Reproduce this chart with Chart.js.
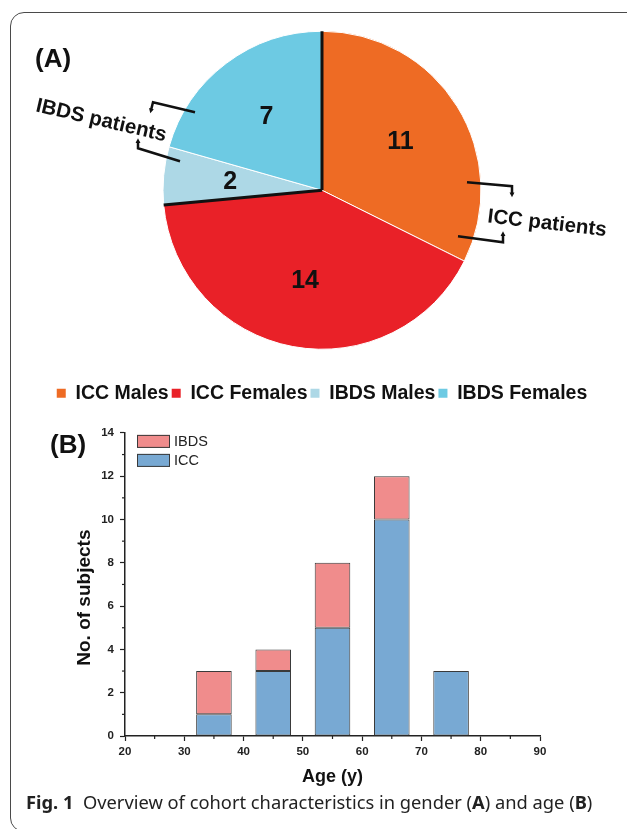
<!DOCTYPE html>
<html>
<head>
<meta charset="utf-8">
<script src="https://cdn.jsdelivr.net/npm/chart.js@4.4.1/dist/chart.umd.min.js"></script>
<style>
  html, body { margin: 0; padding: 0; background: #fff; width: 627px; height: 829px; overflow: hidden; }
  #frame { position: absolute; left: 10px; top: 12px; width: 700px; height: 818px; border: 1.5px solid #4a4a4a; border-radius: 14px; }
  .panel { position: absolute; font-family: 'Liberation Sans', Arial, sans-serif; font-weight: bold; font-size: 26px; line-height: 1; color: #111; }
  #pieCanvas { position: absolute; left: 0; top: 0; }
  #barCanvas { position: absolute; left: 0; top: 420px; }
  #caption { position: absolute; left: 26px; top: 793px; font-family: 'Noto Sans', 'Open Sans', sans-serif; font-size: 18px; line-height: 1; color: #222; white-space: nowrap; }
  #caption b { font-weight: bold; }
</style>
</head>
<body>
<div id="frame"></div>
<canvas id="pieCanvas" width="627" height="413"></canvas>
<canvas id="barCanvas" width="627" height="380"></canvas>
<div class="panel" style="left:35px; top:45px;">(A)</div>
<div class="panel" style="left:50px; top:431px;">(B)</div>
<div id="caption"><b>Fig. 1</b>&nbsp;&nbsp;Overview of cohort characteristics in gender (<b>A</b>) and age (<b>B</b>)</div>

<script>
// Pie data (A)
const pieLabels = ['ICC Males', 'ICC Females', 'IBDS Males', 'IBDS Females'];
const pieValues = [11, 14, 2, 7];
const pieColors = ['#EE6B24', '#E92128', '#ADD8E6', '#6DCAE3'];

// Histogram data (B)
const ageBins = [35, 45, 55, 65, 75];
const iccCounts = [1, 3, 5, 10, 3];
const ibdsCounts = [2, 1, 3, 2, 0];
const xTickValues = [20, 30, 40, 50, 60, 70, 80, 90];
const xMinorValues = [25, 35, 45, 55, 65, 75, 85];
const yTickValues = [0, 2, 4, 6, 8, 10, 12, 14];
const yMinorValues = [1, 3, 5, 7, 9, 11, 13];

const FONT = "'Liberation Sans', Arial, sans-serif";

// small bracket with arrow head, points given relative to pie centre
function drawBracket(ctx, cx, cy, pts) {
    ctx.beginPath();
    ctx.moveTo(cx + pts[0][0], cy + pts[0][1]);
    for (let i = 1; i < pts.length; i++) ctx.lineTo(cx + pts[i][0], cy + pts[i][1]);
    ctx.stroke();
    const a = pts[pts.length - 2], b = pts[pts.length - 1];
    const ang = Math.atan2(b[1] - a[1], b[0] - a[0]);
    const tx = cx + b[0], ty = cy + b[1];
    ctx.beginPath();
    ctx.moveTo(tx + 3 * Math.cos(ang), ty + 3 * Math.sin(ang));
    ctx.lineTo(tx + 3 * Math.cos(ang + 2.2), ty + 3 * Math.sin(ang + 2.2));
    ctx.lineTo(tx + 3 * Math.cos(ang - 2.2), ty + 3 * Math.sin(ang - 2.2));
    ctx.closePath();
    ctx.fill();
}

function drawGroupLabel(ctx, cx, cy, text, dx, dy, rot) {
    ctx.save();
    ctx.translate(cx + dx, cy + dy);
    ctx.rotate(rot * Math.PI / 180);
    ctx.font = 'bold 20.5px ' + FONT;
    ctx.textAlign = 'left';
    ctx.textBaseline = 'alphabetic';
    ctx.fillText(text, 0, 0);
    ctx.restore();
}

const pieDecor = {
    id: 'pieDecor',
    afterDatasetsDraw(chart) {
        const ctx = chart.ctx;
        const arcs = chart.getDatasetMeta(0).data;
        const values = chart.data.datasets[0].data;
        const cx = arcs[0].x, cy = arcs[0].y, R = arcs[0].outerRadius;
        ctx.save();

        // black lines between the ICC and IBDS groups
        ctx.strokeStyle = '#111';
        ctx.lineWidth = 3;
        [arcs[0].startAngle, arcs[2].startAngle].forEach(a => {
            ctx.beginPath();
            ctx.moveTo(cx, cy);
            ctx.lineTo(cx + R * Math.cos(a), cy + R * Math.sin(a));
            ctx.stroke();
        });

        // counts inside the slices
        ctx.fillStyle = '#111';
        ctx.font = "bold 25px 'Liberation Sans Narrow', " + FONT;
        ctx.textAlign = 'center';
        ctx.textBaseline = 'middle';
        arcs.forEach((arc, i) => {
            const mid = (arc.startAngle + arc.endAngle) / 2;
            ctx.fillText(values[i], cx + 0.58 * R * Math.cos(mid), cy + 0.58 * R * Math.sin(mid));
        });

        // group annotations
        ctx.fillStyle = '#111';
        ctx.strokeStyle = '#111';
        ctx.lineWidth = 2.5;
        drawGroupLabel(ctx, cx, cy, 'ICC patients', 165, 32, 6.7);
        drawBracket(ctx, cx, cy, [[145, -8], [190, -4], [190, 4]]);
        drawBracket(ctx, cx, cy, [[136, 46], [181, 52], [181, 44]]);
        drawGroupLabel(ctx, cx, cy, 'IBDS patients', -287, -79, 13);
        drawBracket(ctx, cx, cy, [[-127, -78], [-169, -88], [-171, -80]]);
        drawBracket(ctx, cx, cy, [[-142, -29], [-184, -42], [-184, -49]]);
        ctx.restore();
    }
};

function renderPie() {
    const ctx = document.getElementById('pieCanvas').getContext('2d');
    new Chart(ctx, {
        type: 'pie',
        data: {
            labels: pieLabels,
            datasets: [{
                data: pieValues,
                backgroundColor: pieColors,
                borderColor: '#ffffff',
                borderWidth: 1
            }]
        },
        options: {
            responsive: false,
            animation: false,
            radius: 159,
            layout: { padding: { left: 17, right: 0, top: 0, bottom: 0 } },
            plugins: {
                tooltip: { enabled: false },
                legend: {
                    position: 'bottom',
                    labels: {
                        color: '#111',
                        font: { family: FONT, size: 19.5, weight: 'bold' },
                        boxWidth: 9,
                        boxHeight: 9,
                        padding: 3,
                        generateLabels: chart => Chart.overrides.doughnut.plugins.legend.labels
                            .generateLabels(chart).map(l => Object.assign(l, { lineWidth: 0 }))
                    }
                }
            }
        },
        plugins: [pieDecor]
    });
}

// legend box inside the plot, IBDS on top
const barLegend = {
    id: 'barLegend',
    afterDraw(chart) {
        const { ctx, chartArea } = chart;
        const items = chart.data.datasets.slice().reverse();
        ctx.save();
        items.forEach((ds, i) => {
            const x = chartArea.left + 12, y = chartArea.top + 2 + i * 19;
            ctx.fillStyle = ds.backgroundColor;
            ctx.fillRect(x, y, 33, 13);
            ctx.strokeStyle = ds.borderColor;
            ctx.lineWidth = 1;
            ctx.strokeRect(x + 0.5, y + 0.5, 32, 12);
            ctx.fillStyle = '#222';
            ctx.font = '14.5px ' + FONT;
            ctx.textAlign = 'left';
            ctx.textBaseline = 'middle';
            ctx.fillText(ds.label, x + 37, y + 7);
        });
        ctx.restore();
    }
};

// short minor ticks between the labelled ones
const minorTicks = {
    id: 'minorTicks',
    afterDraw(chart) {
        const { ctx, chartArea, scales } = chart;
        ctx.save();
        ctx.strokeStyle = '#222';
        ctx.lineWidth = 1.2;
        xMinorValues.forEach(v => {
            const px = scales.x.getPixelForValue(v);
            ctx.beginPath();
            ctx.moveTo(px, chartArea.bottom);
            ctx.lineTo(px, chartArea.bottom + 3);
            ctx.stroke();
        });
        yMinorValues.forEach(v => {
            const py = scales.y.getPixelForValue(v);
            ctx.beginPath();
            ctx.moveTo(chartArea.left - 3, py);
            ctx.lineTo(chartArea.left, py);
            ctx.stroke();
        });
        ctx.restore();
    }
};

function renderBars() {
    const ctx = document.getElementById('barCanvas').getContext('2d');
    const tickFont = { family: FONT, size: 11.5, weight: 'bold' };
    new Chart(ctx, {
        type: 'bar',
        data: {
            datasets: [
                {
                    label: 'ICC',
                    data: ageBins.map((a, i) => ({ x: a, y: iccCounts[i] })),
                    backgroundColor: '#78A9D3',
                    borderColor: '#3a3a3a',
                    borderWidth: 1,
                    borderSkipped: false,
                    barPercentage: 0.6,
                    categoryPercentage: 1
                },
                {
                    label: 'IBDS',
                    data: ageBins.map((a, i) => ({ x: a, y: ibdsCounts[i] })),
                    backgroundColor: '#F08C8C',
                    borderColor: '#3a3a3a',
                    borderWidth: 1,
                    borderSkipped: false,
                    barPercentage: 0.6,
                    categoryPercentage: 1
                }
            ]
        },
        options: {
            responsive: false,
            animation: false,
            layout: { padding: { left: 0, right: 87, top: 12, bottom: 0 } },
            plugins: { legend: { display: false }, tooltip: { enabled: false } },
            scales: {
                x: {
                    type: 'linear',
                    min: 20,
                    max: 90,
                    offset: false,
                    stacked: true,
                    afterBuildTicks: s => { s.ticks = xTickValues.map(v => ({ value: v })); },
                    afterFit: s => { s.height = 64; },
                    grid: { offset: false, drawOnChartArea: false, tickLength: 5, tickColor: '#222', tickWidth: 1.2 },
                    border: { color: '#222', width: 1.5 },
                    ticks: { font: tickFont, color: '#222', padding: 4, maxRotation: 0 },
                    title: {
                        display: true, text: 'Age (y)', color: '#111',
                        font: { family: FONT, size: 18, weight: 'bold' },
                        padding: { top: 0, bottom: 12 }
                    }
                },
                y: {
                    min: 0,
                    max: 14,
                    stacked: true,
                    afterBuildTicks: s => { s.ticks = yTickValues.map(v => ({ value: v })); },
                    afterFit: s => { s.width = 125; },
                    grid: { drawOnChartArea: false, tickLength: 5, tickColor: '#222', tickWidth: 1.2 },
                    border: { color: '#222', width: 1.5 },
                    ticks: { font: tickFont, color: '#222', padding: 6 },
                    title: {
                        // trailing spaces push the title a little below the axis centre, as in the figure
                        display: true, text: 'No. of subjects\u00A0\u00A0\u00A0\u00A0\u00A0', color: '#111',
                        font: { family: FONT, size: 19, weight: 'bold' },
                        padding: { top: 73, bottom: 0 }
                    }
                }
            }
        },
        plugins: [minorTicks, barLegend]
    });
}

// stretch the caption to the width it has in the figure
function fitCaption() {
    const cap = document.getElementById('caption');
    const w = cap.getBoundingClientRect().width;
    cap.style.fontSize = (18 * 567 / w) + 'px';
}

function init() {
    renderPie();
    renderBars();
    fitCaption();
}

document.addEventListener('DOMContentLoaded', init);
</script>
</body>
</html>
